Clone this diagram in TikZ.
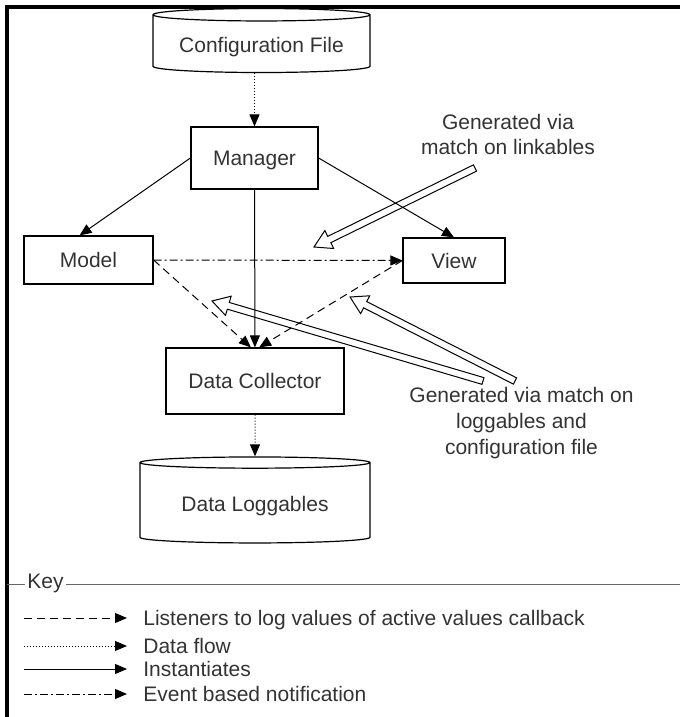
\documentclass[tikz,border=0pt]{standalone}
\usepackage{fontspec}
\setmainfont{Liberation Sans}
\usetikzlibrary{arrows.meta, shapes.geometric, calc, positioning}
\tikzstyle{box} = [draw, rectangle, line width=0.6pt, text height=7.5pt, text depth=0pt]
\tikzstyle{store} = [draw, cylinder, shape border rotate=90, aspect=0.07, line width=0.6pt, text height=7.5pt, text depth=0pt]
\tikzstyle{inst} = [line width=0.5pt, ->, >={Triangle[length=6pt,width=5pt]}]
\tikzstyle{flow} = [inst, densely dotted]
\tikzstyle{listen} = [inst, dash pattern=on 4pt off 2.5pt]
\tikzstyle{event} = [inst, dash pattern=on 4pt off 1.5pt on 1pt off 1.5pt]
\tikzstyle{hollow} = [draw, fill=white, line width=0.5pt, line join=miter]
\newcommand{\bigarrow}[2]{%
  \coordinate (hb) at ($(#2)!8.5pt!(#1)$);
  \draw[hollow] ($(#1)!1.75pt!90:(#2)$) -- ($(hb)!1.75pt!90:(#2)$) -- ($(hb)!5pt!90:(#2)$) -- (#2)
    -- ($(hb)!5pt!-90:(#2)$) -- ($(hb)!1.75pt!-90:(#2)$) -- ($(#1)!1.75pt!-90:(#2)$) -- cycle;
}

\begin{document}
\begin{tikzpicture}[x=0.5pt, y=-0.5pt, font=\fontsize{10.5}{12.5}\selectfont, text=black!80]
        \useasboundingbox (0,0) rectangle (680,717);
        \draw[line width=2pt] (7,717) -- (7,7) -- (680,7);

        \node (cfg) [store, minimum width=108.5pt, minimum height=32pt] at (261.5,45) {Configuration File};
        \node (mgr) [box, minimum width=63.5pt, minimum height=31pt] at (254.5,158) {Manager};
        \node (mdl) [box, minimum width=64.5pt, minimum height=24pt] at (88.5,260) {Model};
        \node (view) [box, minimum width=51pt, minimum height=22.5pt] at (454,260.5) {View};
        \node (dc) [box, minimum width=89pt, minimum height=33pt] at (255,381) {Data Collector};
        \node (logs) [store, minimum width=115pt, minimum height=43pt] at (255,504) {Data Loggables};

        \node (lnk) [align=center] at (508,134.5) {Generated via\\match on linkables};
        \node (lgb) [align=center, font=\fontsize{10.5}{13}\selectfont] at (521.5,423) {Generated via match on\\loggables and\\configuration file};

        \coordinate (a1) at (475,168);
        \coordinate (a1tip) at (314,247);
        \coordinate (a2) at (483,381);
        \coordinate (a2tip) at (212,301);
        \coordinate (a3) at (515,381);
        \coordinate (a3tip) at (350,297);
        \bigarrow{a1}{a1tip}
        \bigarrow{a2}{a2tip}
        \bigarrow{a3}{a3tip}

        \draw[flow] (cfg.south -| mgr.north) -- (mgr.north);
        \draw[inst] (mgr.west) -- (mdl.110);
        \draw[inst] (mgr.east) -- (view.north);
        \draw[inst] (mgr) -- (dc);
        \draw[event] (mdl.east) -- (view.west);
        \draw[listen] (mdl.east) -- (dc.97);
        \draw[listen] (view.west) -- (dc.83);
        \draw[flow] (dc) -- (logs);

        \node (key) [anchor=base west, inner sep=1pt] at (25,588) {Key};
        \coordinate (kl) at (7,584);
        \coordinate (kr) at (680,584);
        \draw[black!60, line width=0.5pt] (kl) -- (kl -| key.west);
        \draw[black!60, line width=0.5pt] (key.east |- kl) -- (kr);

        \foreach \st/\y/\txt in {listen/618/Listeners to log values of active values callback, flow/646/Data flow, inst/669/Instantiates, event/694/Event based notification}{
          \coordinate (ka\y) at (24,\y);
          \coordinate (kb\y) at (127,\y);
          \node (kt\y) [anchor=base west, inner sep=0pt] at (143,\y+7.5) {\txt};
          \draw[\st] (ka\y) -- (kb\y);
        }
\end{tikzpicture}
\end{document}
